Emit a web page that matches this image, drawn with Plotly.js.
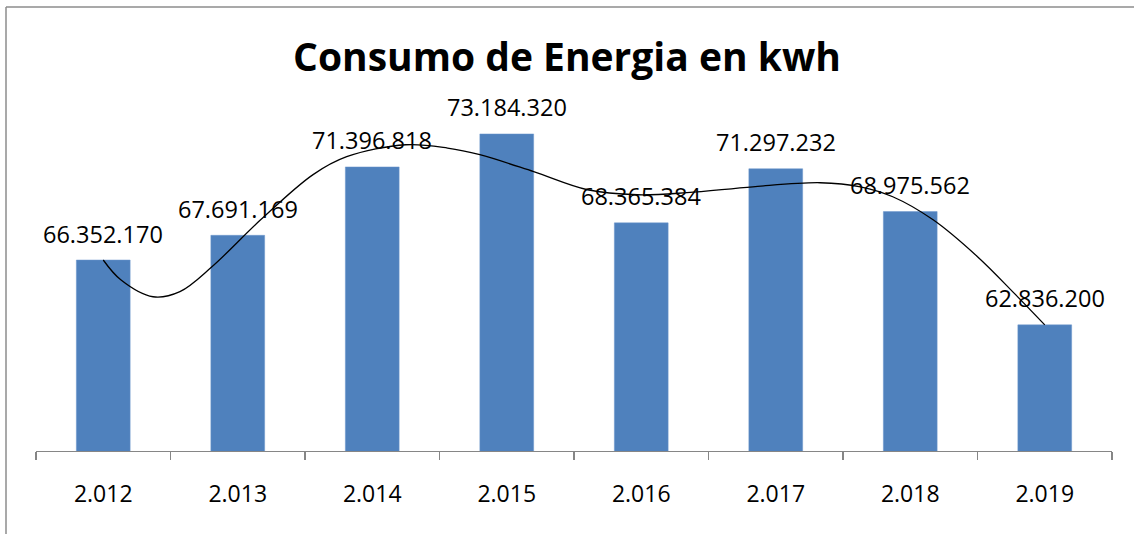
<!DOCTYPE html>
<html>
<head>
<meta charset="utf-8">
<script src="https://cdn.plot.ly/plotly-3.0.1.min.js"></script>
<style>html,body{margin:0;padding:0;background:#fff;}#chart{width:1134px;height:534px;}</style>
</head>
<body>
<div id="chart"></div>
<script>
var years = ["2.012","2.013","2.014","2.015","2.016","2.017","2.018","2.019"];
var consumo = [66352170, 67691169, 71396818, 73184320, 68365384, 71297232, 68975562, 62836200];
var labels = ["66.352.170","67.691.169","71.396.818","73.184.320","68.365.384","71.297.232","68.975.562","62.836.200"];
// trend line (category position, value)
var trendX = [0.00, 0.13, 0.37, 0.57, 0.81, 1.17, 1.56, 1.81, 2.25, 2.56, 2.80, 3.20, 3.60, 3.97, 4.34, 4.83, 5.33, 5.63, 5.87, 6.17, 6.50, 6.77, 7.00];
var trendY = [66352170, 65280000, 64360000, 64640000, 66000000, 68530000, 70980000, 71950000, 72600000, 72420000, 72060000, 71140000, 70160000, 69890000, 70000000, 70320000, 70540000, 70320000, 69780000, 68530000, 66530000, 64570000, 62836200];

var idx = years.map(function(_, i){ return i; });
var bounds = [];
for (var b = 0; b <= years.length; b++) bounds.push(b - 0.5);

var W = 1134, H = 534, ml = 36, mr = 22, mt = 82, mb = 83;
var pw = W - ml - mr, ph = H - mt - mb;
function px(x){ return (x - ml) / pw; }
function py(y){ return (H - mb - y) / ph; }

var font = "'Open Sans', 'Liberation Sans', sans-serif";

var traces = [
  {
    type: 'bar', x: idx, y: consumo, width: 0.4,
    marker: {color: '#4F81BD', line: {color: '#6C97CC', width: 0.5}},
    hoverinfo: 'skip', showlegend: false
  },
  {
    type: 'scatter', mode: 'lines', x: trendX, y: trendY,
    line: {color: '#000000', width: 1.3, shape: 'spline', smoothing: 1},
    hoverinfo: 'skip', showlegend: false
  }
];

var annotations = idx.map(function(i){
  return {x: i, y: consumo[i], xref: 'x', yref: 'y', text: labels[i],
    showarrow: false, yanchor: 'middle', yshift: 26.5,
    font: {family: font, size: 23.5, color: '#000'}};
});

var layout = {
  width: W, height: H,
  margin: {l: ml, r: mr, t: mt, b: mb, pad: 0},
  paper_bgcolor: '#ffffff', plot_bgcolor: '#ffffff',
  title: {text: '<b>Consumo de Energia en kwh</b>', x: 0.5, xanchor: 'center', y: 1 - 57/H, yanchor: 'middle',
    font: {family: font, size: 39, color: '#000'}},
  xaxis: {
    range: [-0.5, 7.5], tickvals: idx, ticktext: years, ticks: '',
    showline: false, showgrid: false, zeroline: false,
    ticklabelstandoff: 27,
    tickfont: {family: font, size: 23, color: '#000'}
  },
  xaxis2: {
    overlaying: 'x', anchor: 'y', side: 'bottom',
    range: [-0.5, 7.5], tickvals: bounds, showticklabels: false,
    ticks: 'outside', ticklen: 8, tickwidth: 1.3, tickcolor: '#868686',
    showline: true, linecolor: '#868686', linewidth: 1.3,
    showgrid: false, zeroline: false
  },
  yaxis: {range: [56000000, 76000000], visible: false, showgrid: false, zeroline: false},
  annotations: annotations,
  shapes: [
    {type: 'line', xref: 'paper', yref: 'paper', x0: px(6), x1: px(6), y0: py(7), y1: py(534), line: {color: '#8c8c8c', width: 1.5}},
    {type: 'line', xref: 'paper', yref: 'paper', x0: px(6), x1: px(1134), y0: py(7), y1: py(7), line: {color: '#8c8c8c', width: 1.5}}
  ]
};

// dummy trace to activate xaxis2
traces.push({type: 'scatter', mode: 'none', x: [0], y: [56000000], xaxis: 'x2', hoverinfo: 'skip', showlegend: false});

Plotly.newPlot('chart', traces, layout, {displayModeBar: false, staticPlot: true});
</script>
</body>
</html>
